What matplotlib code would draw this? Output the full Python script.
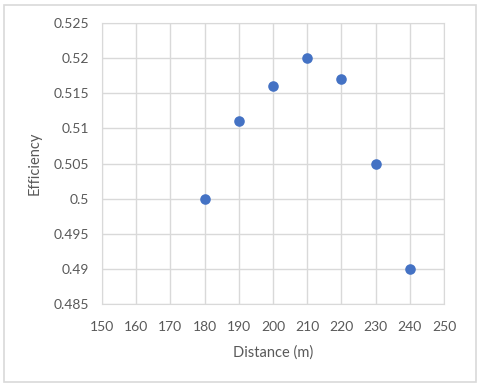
import matplotlib.pyplot as plt
from matplotlib.patches import Rectangle

distance = [180, 190, 200, 210, 220, 230, 240]
efficiency = [0.500, 0.511, 0.516, 0.520, 0.517, 0.505, 0.490]
x_ticks = list(range(150, 251, 10))
y_ticks = [0.485, 0.49, 0.495, 0.5, 0.505, 0.51, 0.515, 0.52, 0.525]
y_labels = ['0.485', '0.49', '0.495', '0.5', '0.505', '0.51', '0.515', '0.52', '0.525']

plt.rcParams['font.family'] = ['Lato', 'DejaVu Sans']
text_color = '#595959'

fig = plt.figure(figsize=(4.8, 3.87), dpi=100)
ax = fig.add_axes([0.2125, 0.2145, 0.7125, 0.726])

# light frame around the whole chart, like the Excel chart area
fig.patches.append(Rectangle((0.008, 0.012), 0.984, 0.976, transform=fig.transFigure,
                             facecolor='none', edgecolor='#D9D9D9', linewidth=1.2))

ax.scatter(distance, efficiency, s=58, color='#4472C4', zorder=3, linewidths=0)

ax.set_xlim(150, 250)
ax.set_ylim(0.485, 0.525)
ax.set_xticks(x_ticks)
ax.set_yticks(y_ticks)
ax.set_yticklabels(y_labels)
ax.grid(True, color='#D9D9D9', linewidth=1)
ax.set_axisbelow(True)
for side in ax.spines:
    ax.spines[side].set_color('#D9D9D9')
ax.tick_params(axis='y', length=0, labelsize=10, colors=text_color, pad=9)
ax.tick_params(axis='x', length=0, labelsize=10, colors=text_color, pad=12)

ax.set_xlabel('Distance (m)', fontsize=10.5, color=text_color, labelpad=9)
ax.set_ylabel('Efficiency', fontsize=10.5, color=text_color, labelpad=9)

fig.savefig('out.png', dpi=100)
